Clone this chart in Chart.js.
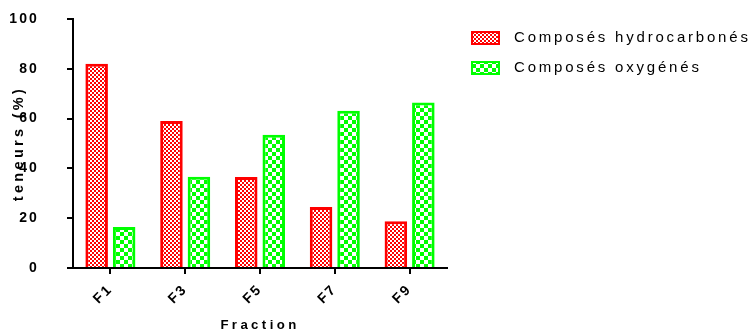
<!DOCTYPE html>
<html>
<head>
<meta charset="utf-8">
<script src="https://cdn.jsdelivr.net/npm/chart.js@4/dist/chart.umd.min.js"></script>
<style>
  html, body { margin: 0; padding: 0; background: #fff; }
  #c { display: block; }
</style>
</head>
<body>
<canvas id="c" width="751" height="333"></canvas>
<script>
// ---- data ----
const categories = ['F1', 'F3', 'F5', 'F7', 'F9'];
const hydrocarbones = [82, 59, 36.5, 24.5, 18.8];
const oxygenes = [16.5, 36.6, 53.5, 63.2, 66.5];
const seriesNames = ['Composés hydrocarbonés', 'Composés oxygénés'];
const yTicks = [0, 20, 40, 60, 80, 100];
const xTitle = 'Fraction';
const yTitle = 'teneurs (%)';

const FAMILY = '"Liberation Sans", Arial, sans-serif';
const canvas = document.getElementById('c');
const ctx0 = canvas.getContext('2d');

// letter spacing chosen from the font size in use
const spacingBySize = { '14': 2.1, '13.2': 3.4, '14.5': 3.3, '15': 2.8 };
const fontDesc = Object.getOwnPropertyDescriptor(CanvasRenderingContext2D.prototype, 'font');
Object.defineProperty(ctx0, 'font', {
  configurable: true,
  get() { return fontDesc.get.call(this); },
  set(v) {
    fontDesc.set.call(this, v);
    const m = /(\d+(?:\.\d+)?)px/.exec(v);
    const sp = m && spacingBySize[m[1]] !== undefined ? spacingBySize[m[1]] : 0;
    this.letterSpacing = sp + 'px';
  }
});

function checker(color, cell) {
  const c = document.createElement('canvas');
  c.width = cell * 2; c.height = cell * 2;
  const g = c.getContext('2d');
  g.fillStyle = '#ffffff';
  g.fillRect(0, 0, cell * 2, cell * 2);
  g.fillStyle = color;
  g.fillRect(0, 0, cell, cell);
  g.fillRect(cell, cell, cell, cell);
  return ctx0.createPattern(c, 'repeat');
}
const RED = '#ff0000', GREEN = '#00ff00';
const redPat = checker(RED, 2);
const greenPat = checker(GREEN, 4);

const customLegend = {
  id: 'customLegend',
  afterDraw(chart) {
    const ctx = chart.ctx;
    ctx.save();
    ctx.font = '15px ' + FAMILY;
    ctx.textBaseline = 'middle';
    ctx.textAlign = 'left';
    chart.data.datasets.forEach((ds, i) => {
      const yc = 38 + i * 30;
      ctx.fillStyle = ds.backgroundColor;
      ctx.fillRect(471, yc - 7, 29, 14);
      ctx.strokeStyle = ds.borderColor;
      ctx.lineWidth = 2;
      ctx.strokeRect(472, yc - 6, 27, 12);
      ctx.fillStyle = '#000';
      ctx.fillText(ds.label, 514, yc);
    });
    ctx.restore();
  }
};

function noPad(s) { s.paddingTop = 0; s.paddingBottom = 0; s.paddingLeft = 0; s.paddingRight = 0; }

new Chart(canvas, {
  type: 'bar',
  data: {
    labels: categories,
    datasets: [
      { label: seriesNames[0], data: hydrocarbones, backgroundColor: redPat, borderColor: RED, borderWidth: 3 },
      { label: seriesNames[1], data: oxygenes, backgroundColor: greenPat, borderColor: GREEN, borderWidth: 3 }
    ]
  },
  options: {
    responsive: false,
    animation: false,
    devicePixelRatio: 1,
    categoryPercentage: 0.735,
    barPercentage: 0.82,
    layout: { padding: { top: 19, right: 304, left: 0, bottom: 0 } },
    plugins: { legend: { display: false }, tooltip: { enabled: false } },
    scales: {
      x: {
        afterFit(s) { s.height = 65; noPad(s); },
        grid: { drawOnChartArea: false, drawTicks: true, tickLength: 6, color: '#000', lineWidth: 2, offset: false },
        border: { display: true, color: '#000', width: 2 },
        ticks: {
          color: '#000', minRotation: 45, maxRotation: 45, padding: 7,
          font: { family: FAMILY, size: 14, weight: 'bold' }
        },
        title: {
          display: true, text: xTitle, color: '#000', padding: { top: 0, bottom: 0 },
          font: { family: FAMILY, size: 13.2, weight: 'bold' }
        }
      },
      y: {
        min: 0, max: 100,
        afterFit(s) { s.width = 73; noPad(s); },
        afterBuildTicks(s) { s.ticks = yTicks.map(v => ({ value: v })); },
        grid: { drawOnChartArea: false, drawTicks: true, tickLength: 6, color: '#000', lineWidth: 2 },
        border: { display: true, color: '#000', width: 2 },
        ticks: {
          color: '#000', padding: 28,
          font: { family: FAMILY, size: 14, weight: 'bold' }
        },
        title: {
          display: true, text: yTitle, color: '#000', padding: { top: 10, bottom: 0 },
          font: { family: FAMILY, size: 14.5, weight: 'bold' }
        }
      }
    }
  },
  plugins: [customLegend]
});
</script>
</body>
</html>
